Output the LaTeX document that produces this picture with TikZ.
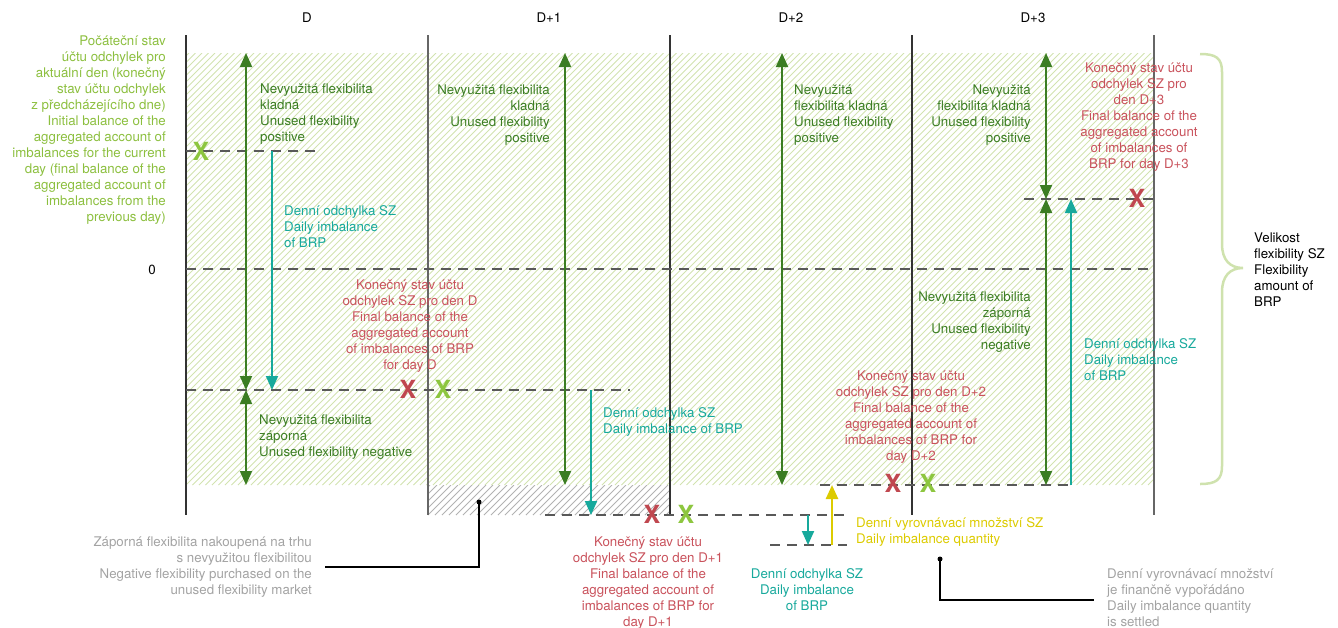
\documentclass[tikz,border=0pt]{standalone}
\usepackage{fontspec}
\setmainfont{TeX Gyre Heros}
\usetikzlibrary{arrows.meta}
\definecolor{lgreen}{HTML}{8CBF3F}
\definecolor{xgreen}{HTML}{8DC63F}
\definecolor{dgreen}{HTML}{3B7D23}
\definecolor{xred}{HTML}{C0474F}
\definecolor{tred}{HTML}{C9525C}
\definecolor{tealc}{HTML}{17A99C}
\definecolor{yelc}{HTML}{DCCB00}
\definecolor{gtext}{HTML}{A3A3A3}
\definecolor{hatchg}{HTML}{D2E3B0}
\definecolor{bracec}{HTML}{CFE2AE}
\newcommand{\st}{\rule{0pt}{11pt}}
\begin{document}
\begin{tikzpicture}[x=1pt,y=-1pt,
  lbl/.style={inner sep=0pt,font=\fontsize{13.3}{16}\selectfont},
  vln/.style={line width=1.3pt,draw=black!80},
  vlg/.style={line width=1.3pt,draw=black!60},
  dln/.style={line width=1.1pt,draw=black!65,dash pattern=on 10pt off 7pt},
  garrow/.style={draw=dgreen,line width=2pt,{Triangle[width=12pt,length=14pt]}-{Triangle[width=12pt,length=14pt]}},
  tarrow/.style={draw=tealc,line width=2pt,-{Triangle[width=12pt,length=14pt]}},
  yarrow/.style={draw=yelc,line width=2.5pt,-{Triangle[width=12pt,length=14pt]}},
  xmk/.style={inner sep=0pt,font=\fontsize{25}{25}\selectfont\bfseries},
  callout/.style={draw=black,line width=1.3pt},
  dotc/.style={circle,fill=black,inner sep=0pt,minimum size=5pt}
]
\useasboundingbox (0,0) rectangle (1338,627);

% green hatching
\begin{scope}
\clip (186,53) rectangle (1154,485);
\foreach \i in {-68,...,150} \draw[hatchg,line width=0.9pt] ({186+\i*6.5},485) -- ++(432,-432);
\end{scope}
% grey hatching D+1
\begin{scope}
\clip (428,485) rectangle (670,515);
\foreach \i in {-6,...,36} \draw[black!30,line width=0.8pt] ({428+\i*7},515) -- ++(30,-30);
\end{scope}

% vertical day lines
\draw[vln] (186,35) -- (186,515);
\draw[vlg] (428,35) -- (428,515);
\draw[vln] (670,35) -- (670,515);
\draw[vln] (912,35) -- (912,515);
\draw[vlg] (1154,35) -- (1154,515);

% dashed levels
\coordinate (i0) at (186,151); \coordinate (i1) at (316,151);
\coordinate (z0) at (186,269); \coordinate (z1) at (1154,269);
\coordinate (f0) at (186,390); \coordinate (f1) at (630,390);
\coordinate (g0) at (1024,199); \coordinate (g1) at (1154,199);
\coordinate (h0) at (820,485); \coordinate (h1) at (1071,485);
\coordinate (k0) at (545,515); \coordinate (k1) at (847,515);
\coordinate (m0) at (770,545); \coordinate (m1) at (847,545);
\draw[dln] (i0) -- (i1);
\draw[dln] (z0) -- (z1);
\draw[dln] (f0) -- (f1);
\draw[dln] (g0) -- (g1);
\draw[dln] (h0) -- (h1);
\draw[dln] (k0) -- (k1);
\draw[dln] (m0) -- (m1);

% green arrows
\coordinate (a1) at (246,53); \coordinate (a2) at (246,390); \coordinate (a3) at (246,485);
\draw[garrow] (a1) -- (a2);
\draw[garrow] (a2) -- (a3);
\coordinate (b1) at (565,53); \coordinate (b2) at (565,485);
\draw[garrow] (b1) -- (b2);
\coordinate (c1) at (782,53); \coordinate (c2) at (782,485);
\draw[garrow] (c1) -- (c2);
\coordinate (d1) at (1046,53); \coordinate (d2) at (1046,199); \coordinate (d3) at (1046,485);
\draw[garrow] (d1) -- (d2);
\draw[garrow] (d2) -- (d3);

% teal arrows
\coordinate (t1a) at (272,151); \coordinate (t1b) at (272,390);
\draw[tarrow] (t1a) -- (t1b);
\coordinate (t2a) at (591,390); \coordinate (t2b) at (591,515);
\draw[tarrow] (t2a) -- (t2b);
\coordinate (t3a) at (808,515); \coordinate (t3b) at (808,545);
\draw[tarrow] (t3a) -- (t3b);
\coordinate (t4a) at (1071,485); \coordinate (t4b) at (1071,199);
\draw[tarrow] (t4a) -- (t4b);
% yellow arrow
\coordinate (y1) at (832,545); \coordinate (y2) at (832,485);
\draw[yarrow] (y1) -- (y2);

% X marks
\node[xmk,text=xgreen] (x0) at (201,151) {X};
\node[xmk,text=xred] (x1r) at (408,389) {X};
\node[xmk,text=xgreen] (x1g) at (443,389) {X};
\node[xmk,text=xred] (x2r) at (652,514) {X};
\node[xmk,text=xgreen] (x2g) at (686,514) {X};
\node[xmk,text=xred] (x3r) at (893,483) {X};
\node[xmk,text=xgreen] (x3g) at (928,483) {X};
\node[xmk,text=xred] (x4r) at (1137,198) {X};

% brace
\draw[bracec,line width=2.5pt] (1200,54) .. controls (1216,54) and (1222,58) .. (1222,72) -- (1222,244) .. controls (1222,260) and (1230,268) .. (1243,268) .. controls (1230,268) and (1222,276) .. (1222,292) -- (1222,466) .. controls (1222,480) and (1216,484) .. (1200,484);

% callouts
\node[dotc] (p1) at (479,502) {};
\coordinate (p1b) at (479,567); \coordinate (p1c) at (325,567);
\draw[callout] (p1.center) -- (p1b) -- (p1c);
\node[dotc] (p2) at (940,559) {};
\coordinate (p2b) at (940,600); \coordinate (p2c) at (1094,600);
\draw[callout] (p2.center) -- (p2b) -- (p2c);

% headers
\node[lbl,anchor=north] (hD) at (307,11) {\st D};
\node[lbl,anchor=north] (hD1) at (549,11) {\st D+1};
\node[lbl,anchor=north] (hD2) at (791,11) {\st D+2};
\node[lbl,anchor=north] (hD3) at (1033,11) {\st D+3};
\node[lbl,anchor=north] (zero) at (152,263) {\st 0};

% left label
\node[lbl,anchor=north east,align=right,text=lgreen] (init) at (166,34) {\st Počáteční stav\\účtu odchylek pro\\aktuální den (konečný\\stav účtu odchylek\\z předcházejícího dne)\\Initial balance of the\\aggregated account of\\imbalances for the current\\day (final balance of the\\aggregated account of\\imbalances from the\\previous day)};

% D column
\node[lbl,anchor=north west,align=left,text=dgreen] (dpos) at (260,82) {\st Nevyužitá flexibilita\\kladná\\Unused flexibility\\positive};
\node[lbl,anchor=north west,align=left,text=tealc] (dimb) at (284,204) {\st Denní odchylka SZ\\Daily imbalance\\of BRP};
\node[lbl,anchor=north,align=center,text=tred] (dfin) at (410,278) {\st Konečný stav účtu\\odchylek SZ pro den D\\Final balance of the\\aggregated account\\of imbalances of BRP\\for day D};
\node[lbl,anchor=north west,align=left,text=dgreen] (dneg) at (259,413) {\st Nevyužitá flexibilita\\záporná\\Unused flexibility negative};

% D+1 column
\node[lbl,anchor=north east,align=right,text=dgreen] (d1pos) at (550,83) {\st Nevyužitá flexibilita\\kladná\\Unused flexibility\\positive};
\node[lbl,anchor=north west,align=left,text=tealc] (d1imb) at (603,406) {\st Denní odchylka SZ\\Daily imbalance of BRP};
\node[lbl,anchor=north,align=center,text=tred] (d1fin) at (648,535) {\st Konečný stav účtu\\odchylek SZ pro den D+1\\Final balance of the\\aggregated account of\\imbalances of BRP for\\day D+1};

% D+2 column
\node[lbl,anchor=north west,align=left,text=dgreen] (d2pos) at (794,83) {\st Nevyužitá\\flexibilita kladná\\Unused flexibility\\positive};
\node[lbl,anchor=north,align=center,text=tred] (d2fin) at (911,369) {\st Konečný stav účtu\\odchylek SZ pro den D+2\\Final balance of the\\aggregated account of\\imbalances of BRP for\\day D+2};
\node[lbl,anchor=north,align=center,text=tealc] (d2imb) at (807,567) {\st Denní odchylka SZ\\Daily imbalance\\of BRP};
\node[lbl,anchor=north west,align=left,text=yelc] (d2qty) at (856,516) {\st Denní vyrovnávací množství SZ\\Daily imbalance quantity};

% D+3 column
\node[lbl,anchor=north east,align=right,text=dgreen] (d3pos) at (1031,83) {\st Nevyužitá\\flexibilita kladná\\Unused flexibility\\positive};
\node[lbl,anchor=north,align=center,text=tred] (d3fin) at (1139,61) {\st Konečný stav účtu\\odchylek SZ pro\\den D+3\\Final balance of the\\aggregated account\\of imbalances of\\BRP for day D+3};
\node[lbl,anchor=north east,align=right,text=dgreen] (d3neg) at (1031,290) {\st Nevyužitá flexibilita\\záporná\\Unused flexibility\\negative};
\node[lbl,anchor=north west,align=left,text=tealc] (d3imb) at (1084,337) {\st Denní odchylka SZ\\Daily imbalance\\of BRP};

% right label
\node[lbl,anchor=north west,align=left] (flex) at (1254,231) {\st Velikost\\flexibility SZ\\Flexibility\\amount of\\BRP};

% callout texts
\node[lbl,anchor=north east,align=right,text=gtext] (negmkt) at (312,535) {\st Záporná flexibilita nakoupená na trhu\\s nevyužitou flexibilitou\\Negative flexibility purchased on the\\unused flexibility market};
\node[lbl,anchor=north west,align=left,text=gtext] (settled) at (1107,567) {\st Denní vyrovnávací množství\\je finančně vypořádáno\\Daily imbalance quantity\\is settled};
\end{tikzpicture}
\end{document}
